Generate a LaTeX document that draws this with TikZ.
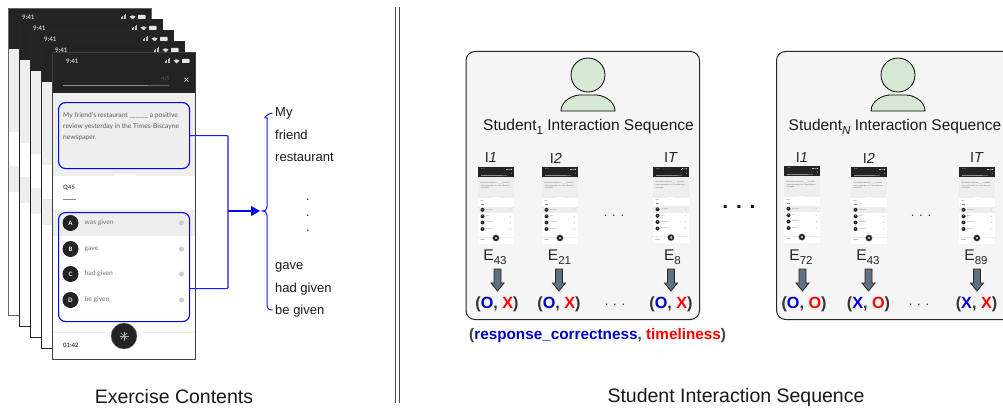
\documentclass[tikz,border=0pt]{standalone}
\usepackage{fontspec}
\setmainfont{Liberation Sans}
\newfontfamily\uifont{Lato}
\usetikzlibrary{arrows.meta,calc}
\definecolor{phdark}{HTML}{232323}
\definecolor{phgray}{HTML}{EEEEEE}
\definecolor{phtext}{HTML}{5A5A5A}
\definecolor{rblue}{HTML}{0000CC}
\definecolor{rred}{HTML}{FF0000}
\definecolor{persongreen}{HTML}{D5E8D4}
\definecolor{arrowslate}{HTML}{5F7080}
\newcommand{\fs}[1]{\fontsize{#1}{#1}\selectfont}
\newcommand{\sbx}[1]{\raisebox{-.45ex}{\fs{11.5}#1}}
\tikzset{
  utxt/.style={inner sep=0pt,font=\uifont\fs{6.7},text=phtext,anchor=west},
  hdtxt/.style={inner sep=0pt,font=\uifont\bfseries\fs{6.2},text=white!80!black,anchor=west},
  optdot/.style={circle,fill=#1,inner sep=0pt,minimum size=5pt},
  optcirc/.style={circle,fill=phdark,inner sep=0pt,minimum size=16pt,text=white,font=\uifont\bfseries\fs{6}},
  bluebox/.style={draw=blue,line width=1.1pt,rounded corners=7pt,inner sep=0pt,anchor=north west},
  blueline/.style={draw=blue!90!white,line width=1.1pt,rounded corners=1pt},
  rtxt/.style={inner sep=0pt,anchor=west,font=\fs{13},text=black!90},
  caption/.style={inner sep=0pt,font=\fs{19.5},text=black!90},
  panel/.style={draw=black!85,line width=1pt,fill=black!4,rounded corners=9pt,anchor=north west,inner sep=0pt},
  ilabel/.style={inner sep=0pt,font=\fs{14.5},text=black!85},
  elabel/.style={inner sep=0pt,font=\fs{15.5},text=black!85},
  result/.style={inner sep=0pt,font=\bfseries\fs{16.2},text=black!80},
  downarrow/.style={draw=black!85,line width=.8pt,fill=arrowslate,line join=miter},
  person/.style={draw=black,line width=.8pt,fill=persongreen},
  tinydots/.style={inner sep=0pt,font=\fs{13},text=black!80},
  sdiv/.style={draw=black!70,line width=.7pt},
}
% screen background and status bar
\newcommand{\phonechrome}{%
  \fill[white] (0,0) rectangle (143,-307);
  \fill[phgray] (0,-41) rectangle (143,-124);
  \fill[white] (61,-124) rectangle (83,-121.5);
  \fill[phgray] (0,-158) rectangle (143,-184);
  \fill[phdark] (0,0) rectangle (143,-41);
  \node[hdtxt] (clock) at (13.5,-9) {9:41};
  \foreach \i/\h in {0/1.5,1/2.5,2/3.5,3/4.5}{\fill[white!75!black] (112+\i*1.6,-11) rectangle ++(1.1,\h);}
  \fill[white!85!black] (121,-8.5) -- (124,-11.5) -- (127,-8.5) arc (45:135:4.2) -- cycle;
  \fill[white!90!black,rounded corners=.6pt] (129.5,-11) rectangle (137,-7);
}
% #1 x, #2 y, #3 edge style, #4 prefix
\newcommand{\backphone}[4]{%
\begin{scope}[shift={(#1,-#2)},transform shape,name prefix=#4-]
  \phonechrome
  \draw[#3] (0,0) rectangle (143,-307);
\end{scope}}
% #1 x, #2 y, #3 scale, #4 edge style options, #5 prefix
\newcommand{\phone}[5]{%
\begin{scope}[shift={(#1,-#2)},scale=#3,transform shape,name prefix=#5-]
  \phonechrome
  \fill[white!40!black] (10.5,-33.2) rectangle (116,-34.4);
  \fill[white!55!black] (10.5,-33.2) rectangle (95,-34.4);
  \node[inner sep=0pt,font=\uifont\fs{5.5},text=white!35!black] (count) at (113,-27) {4/5};
  \node[inner sep=0pt,font=\uifont\fs{10},text=white] (close) at (134,-29) {×};
  \node[utxt] (q1) at (10.5,-64) {My friend's restaurant \_\_\_\_\_\_ a positive};
  \node[utxt] (q2) at (10.5,-75) {review yesterday in the Times-Biscayne};
  \node[utxt] (q3) at (10.5,-86) {newspaper.};
  \node[utxt,font=\uifont\bfseries\fs{6}] (qn) at (10.5,-136) {Q45};
  \fill[white!55!black] (10.5,-147) rectangle (23,-148);
  \foreach \l/\t/\y in {A/was given/171,B/gave/197,C/had given/222,D/be given/248}{
    \node[optcirc] (c\l) at (18,-\y) {\l};
    \node[utxt,text=white!45!black] (t\l) at (32,-\y) {\t};
    \node[optdot=white!80!black] (d\l) at (129,-\y) {};
  }
  \draw[black!6,line width=.5pt] (0,-280) -- (143,-280);
  \node[utxt,font=\uifont\bfseries\fs{6},text=white!25!black] (timer) at (10.5,-293) {01:42};
  \node[circle,fill=phdark,draw=black!50,line width=.3pt,inner sep=0pt,minimum size=26pt] (fab) at (71.5,-284) {};
  \foreach \a in {0,45,90,135}{\draw[white!70!black,line width=.7pt] (71.5,-284) ++(\a:4.5) -- ++(\a+180:9);}
  \draw[#4] (0,0) rectangle (143,-307);
\end{scope}}
% panel column: #1 x of thumbnail, #2 y of thumb, #3 I centre x, #4 I label, #5 E centre x, #6 E label, #7 arrow x, #8 result x, #9 result
\newcommand{\icol}[9]{%
  \phone{#1}{#2}{.25}{draw=none}{th#1}
  \node[ilabel] (I#1) at (#3,-158) {#4};
  \node[elabel] (E#1) at (#5,-257) {#6};
  \draw[downarrow] (#7-3.5,-269) -- (#7+3.5,-269) -- (#7+3.5,-283) -- (#7+6.5,-283) -- (#7,-291)
     -- (#7-6.5,-283) -- (#7-3.5,-283) -- cycle;
  \node[result] (R#1) at (#8,-304) {#9};
}
\newcommand{\OO}{\textcolor{rblue}{O}}
\newcommand{\XX}{\textcolor{rblue}{X}}
\newcommand{\Or}{\textcolor{rred}{O}}
\newcommand{\Xr}{\textcolor{rred}{X}}
\begin{document}
\begin{tikzpicture}[x=1pt,y=1pt]
\useasboundingbox (0,0) rectangle (1003,-412);
\fill[white] (0,0) rectangle (1003,-412);
% stacked phones
\backphone{8.5}{8}{draw=black!60,line width=.7pt}{ph1}
\backphone{19.5}{19}{draw=black!85,line width=.8pt}{ph2}
\backphone{30.5}{30}{draw=black!85,line width=.8pt}{ph3}
\backphone{41.5}{41}{draw=black!85,line width=.8pt}{ph4}
\phone{52.5}{52}{1}{draw=black!75,line width=.8pt}{ph5}
% blue boxes
\node[bluebox,minimum width=131pt,minimum height=66pt] (qbox) at (58,-102) {};
\node[bluebox,minimum width=131pt,minimum height=109pt] (optbox) at (58,-212) {};
\coordinate (bus) at (228,-211);
\coordinate (arrowend) at (260,-211);
\coordinate (bracetip) at (262.5,-211);
\coordinate (bracetop) at (272.5,-113);
\coordinate (bracebot) at (272.5,-310);
\draw[blueline] (qbox.east) -| (bus);
\draw[blueline] ([yshift=-21.5pt]optbox.east) -| (bus);
\draw[draw=blue,line width=1.1pt,-{Triangle[length=9pt,width=10pt,fill=blue]}] (bus) -- (arrowend);
\draw[draw=blue!90!white,line width=1pt] (bracetop) .. controls +(-4,0) and +(-5.5,-1) .. (267,-118) -- (267,-207)
   .. controls (267,-210) and (265,-211) .. (bracetip)
   .. controls (265,-211) and (267,-212) .. (267,-215) -- (267,-305)
   .. controls (267,-308.5) and (269,-310) .. (bracebot);
% sentence words
\node[rtxt] (w1) at (275,-113) {My};
\node[rtxt] (w2) at (275,-135) {friend};
\node[rtxt] (w3) at (275,-157) {restaurant};
\node[tinydots] (wd1) at (308,-200) {.};
\node[tinydots] (wd2) at (308,-216) {.};
\node[tinydots] (wd3) at (308,-231) {.};
\node[rtxt] (w4) at (275,-267) {gave};
\node[rtxt] (w5) at (275,-289) {had given};
\node[rtxt] (w6) at (275,-311) {be given};
\node[caption] (capl) at (174,-397) {Exercise Contents};
% divider
\coordinate (divat) at (395,-7); \coordinate (divbt) at (395,-403);
\coordinate (divar) at (399.5,-7); \coordinate (divbr) at (399.5,-403);
\draw[sdiv] (divat) -- (divbt);
\draw[sdiv] (divar) -- (divbr);
% panels
\node[panel,minimum width=233.5pt,minimum height=268pt] (p1) at (465.5,-51) {};
\node[panel,minimum width=260pt,minimum height=268pt] (p2) at (776,-51) {};
% persons
\foreach \cx/\nm in {588/one,898/two}{
  \draw[person] (\cx-27,-111) .. controls (\cx-27,-100) and (\cx-14,-95) .. (\cx-8,-95) -- (\cx+8,-95)
      .. controls (\cx+14,-95) and (\cx+27,-100) .. (\cx+27,-111) -- cycle;
  \node[person,circle,inner sep=0pt,minimum size=34pt] (head\nm) at (\cx,-75) {};
}
\node[inner sep=0pt,font=\fs{15.5},text=black!90] (t1) at (588.5,-127) {Student\sbx{1} Interaction Sequence};
\node[inner sep=0pt,font=\fs{15.5},text=black!90] (t2) at (895,-127) {Student\sbx{\textit{N}} Interaction Sequence};
% columns
\icol{478}{167}{491}{I\textit{1}}{495}{E\sbx{43}}{497.5}{497}{(\OO, \Xr)}
\icol{542}{167}{556}{I\textit{2}}{559.5}{E\sbx{21}}{559}{559}{(\OO, \Xr)}
\icol{653}{166.5}{671}{I\textit{T}}{672.5}{E\sbx{8}}{671}{671}{(\OO, \Xr)}
\icol{784}{166}{802}{I\textit{1}}{801}{E\sbx{72}}{802.5}{804}{(\OO, \Or)}
\icol{851}{167}{869}{I\textit{2}}{868}{E\sbx{43}}{868.5}{868.5}{(\XX, \Or)}
\icol{959}{167}{977}{I\textit{T}}{976}{E\sbx{89}}{977}{976.5}{(\XX, \Xr)}
% ellipses
\node[tinydots] (e1) at (614,-216) {. . .};
\node[tinydots] (e2) at (615,-305) {. . .};
\node[tinydots] (e3) at (921,-216) {. . .};
\node[tinydots] (e4) at (919,-305) {. . .};
\node[inner sep=0pt,font=\bfseries\fs{21},text=black] (e5) at (739,-207) {. . .};
% legend
\node[inner sep=0pt,font=\bfseries\fs{15.3},text=black!75,anchor=west] (legend) at (469,-336) {(\textcolor{rblue}{response\_correctness}, \textcolor{rred}{timeliness})};
\node[caption] (capr) at (736,-397) {Student Interaction Sequence};
\end{tikzpicture}
\end{document}
